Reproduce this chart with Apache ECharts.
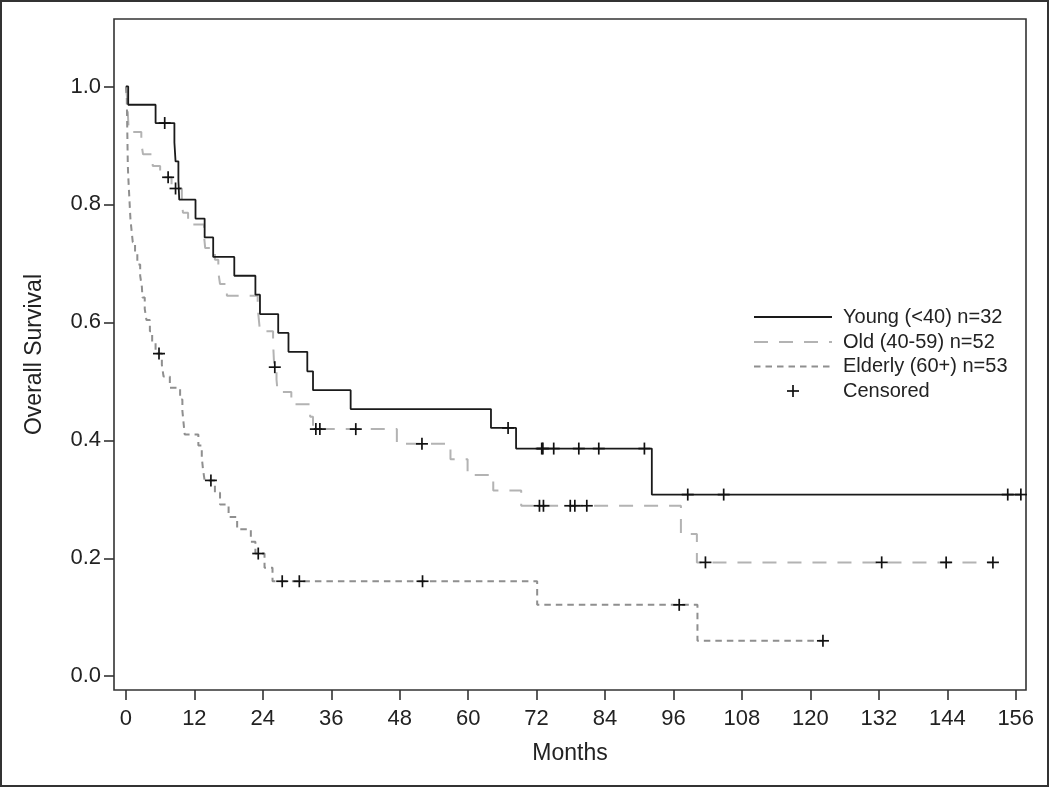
<!DOCTYPE html>
<html>
<head>
<meta charset="utf-8">
<script src="https://cdn.jsdelivr.net/npm/echarts@6/dist/echarts.min.js"></script>
<style>
html,body{margin:0;padding:0;background:#fff;}
#chart{width:1050px;height:788px;}
</style>
</head>
<body>
<div id="chart"></div>
<script>
// ---- Data ----
const xTicks = [0, 12, 24, 36, 48, 60, 72, 84, 96, 108, 120, 132, 144, 156];
const yTicks = [0, 0.2, 0.4, 0.6, 0.8, 1.0];

const seriesNames = ['Young (<40) n=32', 'Old (40-59) n=52', 'Elderly (60+) n=53', 'Censored'];

const youngT = [0, 0.4, 5.2, 8.5, 8.7, 9.2, 9.35, 12.2, 13.8, 15.3, 19.0, 22.7, 23.5, 26.7, 28.5, 31.8, 32.8, 39.4, 64.0, 68.4, 92.2, 156.9];
const youngS = [1.0, 0.969, 0.938, 0.905, 0.873, 0.841, 0.808, 0.776, 0.744, 0.711, 0.679, 0.647, 0.614, 0.582, 0.550, 0.517, 0.485, 0.453, 0.421, 0.386, 0.308, 0.308];
const youngCensT = [6.8, 67.0, 72.9, 73.1, 75.0, 79.4, 82.9, 90.9, 98.5, 104.8, 154.6, 156.9];
const youngCensS = [0.938, 0.421, 0.386, 0.386, 0.386, 0.386, 0.386, 0.386, 0.308, 0.308, 0.308, 0.308];

const oldT = [0, 0.2, 0.3, 0.4, 0.5, 2.7, 3.0, 4.7, 6.0, 8.0, 9.8, 10.0, 10.9, 13.7, 13.9, 15.6, 16.2, 16.5, 17.7, 23.1, 23.3, 23.5, 25.8, 25.9, 26.0, 26.4, 26.6, 29.0, 32.3, 32.8, 47.5, 56.9, 59.9, 64.4, 69.3, 97.3, 100.1, 152.0];
const oldS = [1.0, 0.981, 0.962, 0.942, 0.923, 0.904, 0.885, 0.865, 0.846, 0.827, 0.806, 0.786, 0.766, 0.746, 0.726, 0.706, 0.685, 0.665, 0.645, 0.625, 0.605, 0.585, 0.565, 0.545, 0.524, 0.503, 0.482, 0.461, 0.440, 0.419, 0.394, 0.368, 0.341, 0.315, 0.289, 0.241, 0.193, 0.193];
const oldCensT = [7.4, 8.7, 26.1, 33.3, 34.0, 40.3, 51.9, 72.5, 73.2, 77.9, 78.7, 80.8, 101.6, 132.5, 143.8, 152.0];
const oldCensS = [0.846, 0.827, 0.524, 0.419, 0.419, 0.419, 0.394, 0.289, 0.289, 0.289, 0.289, 0.289, 0.193, 0.193, 0.193, 0.193];

const elderT = [0, 0.15, 0.18, 0.21, 0.24, 0.27, 0.3, 0.33, 0.4, 0.5, 0.6, 0.7, 0.8, 1.0, 1.2, 1.6, 2.0, 2.5, 2.8, 2.9, 3.3, 3.6, 4.2, 4.6, 5.2, 6.3, 6.6, 7.7, 9.5, 9.9, 10.1, 10.3, 12.7, 13.3, 13.5, 13.8, 15.6, 16.5, 18.0, 19.5, 21.9, 22.7, 24.3, 25.7, 72.1, 100.2, 122.2];
const elderS = [1.0, 0.981, 0.962, 0.943, 0.925, 0.906, 0.887, 0.868, 0.849, 0.830, 0.811, 0.792, 0.774, 0.755, 0.736, 0.717, 0.698, 0.679, 0.660, 0.642, 0.623, 0.604, 0.585, 0.566, 0.547, 0.528, 0.508, 0.489, 0.469, 0.450, 0.430, 0.410, 0.391, 0.371, 0.352, 0.332, 0.311, 0.291, 0.270, 0.249, 0.228, 0.208, 0.184, 0.161, 0.121, 0.060, 0.060];
const elderCensT = [5.8, 14.9, 23.2, 27.4, 30.4, 52.0, 97.0, 122.2];
const elderCensS = [0.547, 0.332, 0.208, 0.161, 0.161, 0.161, 0.121, 0.060];

// ---- Build ----
const zip = (a, b) => a.map((v, i) => [v, b[i]]);
const censorData = zip(youngCensT, youngCensS)
  .concat(zip(oldCensT, oldCensS))
  .concat(zip(elderCensT, elderCensS));

const FONT = 'Liberation Sans, Arial, sans-serif';
const youngColor = '#1a1a1a';
const oldColor = '#b3b3b3';
const elderColor = '#8f8f8f';

const chart = echarts.init(document.getElementById('chart'), null, {renderer: 'canvas'});

function plusRender(params, api) {
  const p = api.coord([api.value(0), api.value(1)]);
  const h = 6;
  const st = {stroke: '#111', lineWidth: 1.7};
  return {
    type: 'group',
    children: [
      {type: 'line', shape: {x1: p[0] - h, y1: p[1], x2: p[0] + h, y2: p[1]}, style: st},
      {type: 'line', shape: {x1: p[0], y1: p[1] - h, x2: p[0], y2: p[1] + h}, style: st}
    ]
  };
}

const legendX1 = 754, legendX2 = 832, legendTextX = 843;
const legendY = [317, 342, 366.5, 391];

const option = {
  animation: false,
  backgroundColor: '#fff',
  textStyle: {fontFamily: FONT},
  grid: {left: 114, right: 24, top: 19, bottom: 98, show: true, borderColor: '#333', borderWidth: 1.6, backgroundColor: 'transparent'},
  xAxis: {
    type: 'value', min: -2.09, max: 157.8,
    name: 'Months', nameLocation: 'middle', nameGap: 52,
    nameTextStyle: {fontSize: 23, color: '#222', fontFamily: FONT},
    axisLine: {show: false, onZero: false},
    splitLine: {show: false},
    axisTick: {show: true, length: 10, inside: false, customValues: xTicks, lineStyle: {color: '#333', width: 1.6}},
    axisLabel: {customValues: xTicks, fontSize: 22, color: '#222', margin: 18, fontFamily: FONT}
  },
  yAxis: {
    type: 'value', min: -0.0234, max: 1.1144,
    name: 'Overall Survival', nameLocation: 'middle', nameGap: 68,
    nameTextStyle: {fontSize: 23, color: '#222', fontFamily: FONT},
    axisLine: {show: false, onZero: false},
    splitLine: {show: false},
    axisTick: {show: true, length: 10, inside: false, customValues: yTicks, lineStyle: {color: '#333', width: 1.6}},
    axisLabel: {customValues: yTicks, fontSize: 22, color: '#222', margin: 13, fontFamily: FONT,
      formatter: v => Number(v).toFixed(1)}
  },
  series: [
    {name: seriesNames[1], type: 'line', step: 'end', symbol: 'none', data: zip(oldT, oldS), z: 2,
      lineStyle: {color: oldColor, width: 2, type: [14, 11]}},
    {name: seriesNames[2], type: 'line', step: 'end', symbol: 'none', data: zip(elderT, elderS), z: 3,
      lineStyle: {color: elderColor, width: 2, type: [6.5, 5]}},
    {name: seriesNames[0], type: 'line', step: 'end', symbol: 'none', data: zip(youngT, youngS), z: 4,
      lineStyle: {color: youngColor, width: 1.8, type: 'solid'}},
    {name: seriesNames[3], type: 'custom', renderItem: plusRender, data: censorData, z: 5}
  ],
  graphic: [
    {type: 'rect', shape: {x: 1, y: 1, width: 1047, height: 785}, style: {fill: 'none', stroke: '#333', lineWidth: 2}, silent: true},
    {type: 'line', shape: {x1: legendX1, y1: legendY[0], x2: legendX2, y2: legendY[0]}, style: {stroke: youngColor, lineWidth: 1.8}},
    {type: 'line', shape: {x1: legendX1, y1: legendY[1], x2: legendX2, y2: legendY[1]}, style: {stroke: oldColor, lineWidth: 2, lineDash: [14, 11]}},
    {type: 'line', shape: {x1: legendX1, y1: legendY[2], x2: legendX2, y2: legendY[2]}, style: {stroke: elderColor, lineWidth: 2, lineDash: [6.5, 5]}},
    {type: 'line', shape: {x1: 787, y1: legendY[3], x2: 799, y2: legendY[3]}, style: {stroke: '#111', lineWidth: 1.7}},
    {type: 'line', shape: {x1: 793, y1: legendY[3] - 6, x2: 793, y2: legendY[3] + 6}, style: {stroke: '#111', lineWidth: 1.7}},
    {type: 'text', x: legendTextX, y: legendY[0], style: {text: seriesNames[0], fontSize: 20, fill: '#222', fontFamily: FONT, verticalAlign: 'middle'}},
    {type: 'text', x: legendTextX, y: legendY[1], style: {text: seriesNames[1], fontSize: 20, fill: '#222', fontFamily: FONT, verticalAlign: 'middle'}},
    {type: 'text', x: legendTextX, y: legendY[2], style: {text: seriesNames[2], fontSize: 20, fill: '#222', fontFamily: FONT, verticalAlign: 'middle'}},
    {type: 'text', x: legendTextX, y: legendY[3], style: {text: seriesNames[3], fontSize: 20, fill: '#222', fontFamily: FONT, verticalAlign: 'middle'}}
  ]
};
chart.setOption(option);
</script>
</body>
</html>
